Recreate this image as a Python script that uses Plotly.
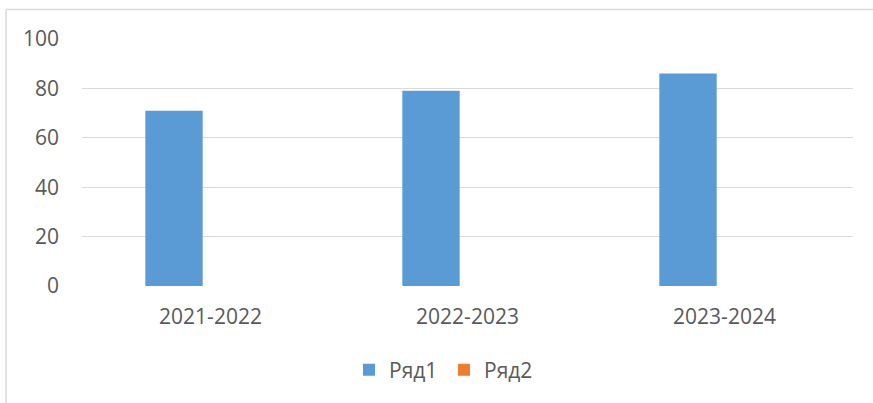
import plotly.graph_objects as go

categories = ["2021-2022", "2022-2023", "2023-2024"]
series1 = [71, 79, 86]
series2 = [0, 0, 0]
series_names = ["Ряд1", "Ряд2"]
y_ticks = [0, 20, 40, 60, 80, 100]

W, H = 873, 403
L, R, T, B = 82, 873 - 853, 39, 403 - 286

fig = go.Figure()
fig.add_trace(go.Bar(x=categories, y=series1, name=series_names[0],
                     marker=dict(color="#5B9BD5", line=dict(width=0))))
fig.add_trace(go.Bar(x=categories, y=series2, name=series_names[1],
                     marker=dict(color="#ED7D31", line=dict(width=0))))

font = dict(family="Open Sans, Liberation Sans, sans-serif", size=21, color="#595959")

fig.update_layout(
    width=W, height=H,
    margin=dict(l=L, r=R, t=T, b=B, pad=0),
    paper_bgcolor="white", plot_bgcolor="white",
    barmode="group", bargap=0.432, bargroupgap=0.214,
    font=font,
    showlegend=True,
    legend=dict(orientation="h", x=(444 - 82) / 771, xanchor="center", y=-0.34, yanchor="middle",
                font=dict(family=font["family"], size=21, color="#595959"),
                itemwidth=30, entrywidth=50, entrywidthmode="pixels",
                tracegroupgap=0, traceorder="normal"),
    xaxis=dict(showgrid=False, showline=False, ticks="", zeroline=False,
               tickfont=font, ticklabelstandoff=16),
    yaxis=dict(range=[0, 100], tickvals=y_ticks, showgrid=True, gridcolor="#D9D9D9",
               gridwidth=1, zeroline=False, showline=False, ticks="",
               tickfont=font, ticklabelstandoff=22),
    shapes=[
        dict(type="line", xref="paper", yref="paper", x0=-76/771, x1=(873-82)/771,
             y0=(286-9.5)/247, y1=(286-9.5)/247, line=dict(color="#D9D9D9", width=1.5)),
        dict(type="line", xref="paper", yref="paper", x0=-76/771, x1=-76/771,
             y0=(286-9.5)/247, y1=(286-420)/247, line=dict(color="#D9D9D9", width=1.5)),
    ],
)

fig.write_html("out.html", config={"displayModeBar": False},
               post_script="document.body.style.margin='0';document.body.style.overflow='hidden';")
